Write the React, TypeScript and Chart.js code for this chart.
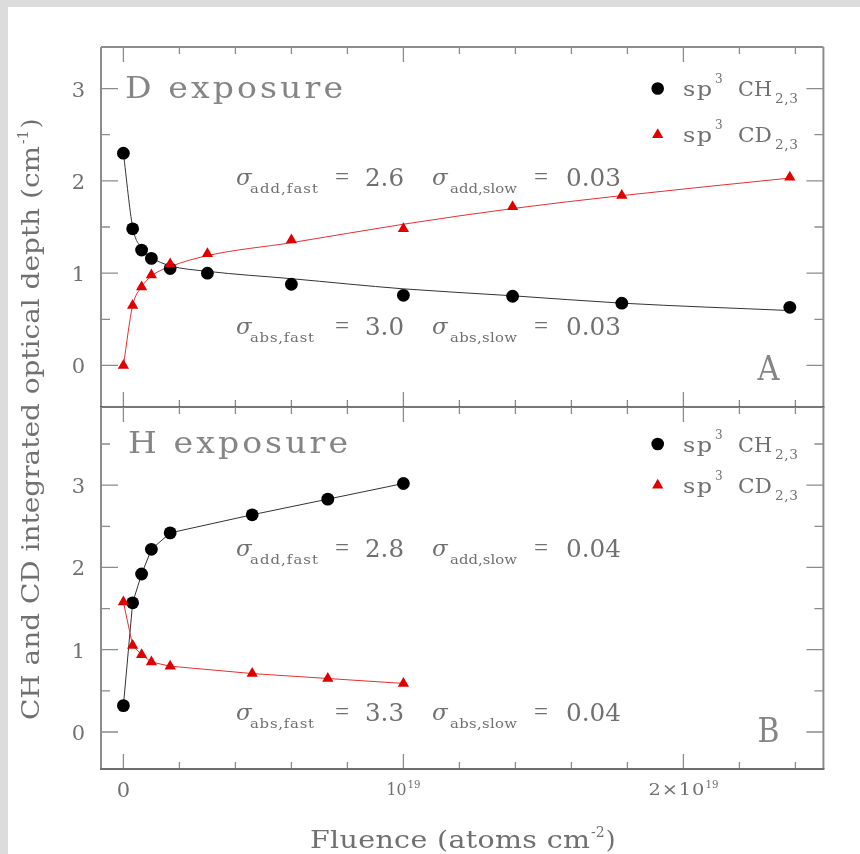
import React, { useEffect, useRef } from 'react';
import { Chart, registerables } from 'chart.js';

Chart.register(...registerables);

// Fluence is in units of 1e19 atoms cm^-2, optical depth in cm^-1.

// Panel A: D exposure
const dFluence = [0, 0.033, 0.065, 0.1, 0.167, 0.3, 0.6, 1.0, 1.39, 1.78, 2.38];
const dCH = [2.3, 1.48, 1.25, 1.16, 1.05, 1.0, 0.88, 0.76, 0.75, 0.675, 0.63];
const dCD = [0.0, 0.65, 0.85, 0.98, 1.1, 1.21, 1.36, 1.48, 1.72, 1.84, 2.04];
const dFitCH = [2.3, 1.5, 1.27, 1.17, 1.08, 1.02, 0.94, 0.83, 0.755, 0.675, 0.595];
const dFitCD = [0.0, 0.65, 0.85, 0.97, 1.07, 1.19, 1.33, 1.53, 1.7, 1.84, 2.03];
const dSigmaAdd = ['2.6', '0.03'];
const dSigmaAbs = ['3.0', '0.03'];

// Panel B: H exposure
const hFluence = [0, 0.033, 0.065, 0.1, 0.167, 0.46, 0.73, 1.0];
const hCH = [0.32, 1.57, 1.92, 2.22, 2.42, 2.64, 2.83, 3.02];
const hCD = [1.58, 1.05, 0.94, 0.85, 0.8, 0.71, 0.65, 0.59];
const hFitCH = [0.32, 1.57, 1.92, 2.22, 2.42, 2.64, 2.83, 3.02];
const hFitCD = [1.58, 1.05, 0.94, 0.85, 0.8, 0.71, 0.65, 0.59];
const hSigmaAdd = ['2.8', '0.04'];
const hSigmaAbs = ['3.3', '0.04'];

// Axes
const xRange = [-0.08, 2.5];
const xMajorTicks = [0, 1, 2];
const xTickLabels = ['0', '10', '2\u00d710'];
const xTickExponents = ['', '19', '19'];
const xMinorStep = 0.2;
const yMajorTicks = [0, 1, 2, 3];
const yMinorStep = 0.5;
const dYRange = [-0.45, 3.45];
const hYRange = [-0.45, 3.95];

const seriesNames = ['CH', 'CD'];

const SERIF = '"DejaVu Serif", serif';
const TIMES = '"Liberation Serif", serif';
const TEXT = '#707070';
const TITLE = '#858585';
const RED = '#e00000';
const FRAME = '#8c8c8c';
const MAX_STRETCH = 1.14;

type Ctx = CanvasRenderingContext2D;

function natWidth(ctx: Ctx, s: string) {
  let w = 0;
  for (const ch of s) w += ctx.measureText(ch).width;
  return w;
}

// Draws text glyph by glyph. With a target width the glyphs are widened a
// little and the rest of the room goes into letter spacing.
function drawFit(ctx: Ctx, s: string, x: number, y: number, width?: number) {
  const chars = [...s];
  const nat = natWidth(ctx, s);
  let stretch = 1;
  let ls = 0;
  if (width !== undefined) {
    stretch = Math.max(0.8, Math.min(width / nat, MAX_STRETCH));
    ls = chars.length > 1 ? (width - nat * stretch) / (chars.length - 1) : 0;
  }
  let cx = x;
  for (const ch of chars) {
    ctx.save();
    ctx.translate(cx, y);
    ctx.scale(stretch, 1);
    ctx.fillText(ch, 0, 0);
    ctx.restore();
    cx += ctx.measureText(ch).width * stretch + ls;
  }
  return cx - ls;
}

function font(size: number, family = SERIF, italic = false) {
  return `${italic ? 'italic ' : ''}${size}px ${family}`;
}

interface PanelSpec {
  fluence: number[];
  ch: number[];
  cd: number[];
  fitCH: number[];
  fitCD: number[];
  smoothFit: boolean;
  yRange: number[];
  padding: { left: number; right: number; top: number; bottom: number };
  title: string;
  titleX: number;
  titleY: number;
  titleW: number;
  letter: string;
  legendValues: number[];
  sigmaAdd: string[];
  sigmaAbs: string[];
  sigmaRowsY: number[];
  isBottom: boolean;
}

function drawSigma(ctx: Ctx, kind: string, vals: string[], y: number) {
  ctx.fillStyle = TEXT;
  const subs = [`${kind},fast`, `${kind},slow`];
  const starts = [236, 432];
  const subX = [250, 450];
  const subW = [kind === 'add' ? 68 : 64, 67];
  const eqX = [335, 534];
  const valX = [365, 566];
  for (let i = 0; i < 2; i++) {
    ctx.font = font(23, SERIF, true);
    ctx.fillText('\u03c3', starts[i], y - 1);
    ctx.font = font(13);
    drawFit(ctx, subs[i], subX[i], y + 7, subW[i]);
    ctx.font = font(25, TIMES);
    ctx.fillText('=', eqX[i], y - 1);
    ctx.font = font(24);
    drawFit(ctx, vals[i], valX[i], y, vals[i].length === 3 ? 39 : 55);
  }
}

function makeDeco(p: PanelSpec) {
  return {
    id: 'panelDeco',
    afterDraw(chart: Chart) {
      const ctx = chart.ctx;
      const { left, right, top, bottom } = chart.chartArea;
      const xs = chart.scales.x;
      const ys = chart.scales.y;
      ctx.save();

      // Inward tick marks
      ctx.strokeStyle = FRAME;
      ctx.lineWidth = 1.3;
      ctx.beginPath();
      for (let i = 0; ; i++) {
        const v = i * xMinorStep;
        if (v > xRange[1]) break;
        const major = xMajorTicks.some((m) => Math.abs(m - v) < 1e-6);
        const len = major ? 15 : 7;
        const px = xs.getPixelForValue(v);
        ctx.moveTo(px, top);
        ctx.lineTo(px, top + len);
        ctx.moveTo(px, bottom);
        ctx.lineTo(px, bottom - len);
      }
      for (let i = 0; ; i++) {
        const v = i * yMinorStep;
        if (v > p.yRange[1]) break;
        const major = Math.abs(v - Math.round(v)) < 1e-6;
        const len = major ? 17 : 9;
        const py = ys.getPixelForValue(v);
        ctx.moveTo(left, py);
        ctx.lineTo(left + len, py);
        ctx.moveTo(right, py);
        ctx.lineTo(right - len, py);
      }
      ctx.stroke();

      // Frame
      ctx.lineWidth = 2;
      ctx.strokeStyle = FRAME;
      ctx.beginPath();
      ctx.moveTo(left, bottom);
      ctx.lineTo(left, top);
      ctx.moveTo(right, top);
      ctx.lineTo(right, bottom);
      if (!p.isBottom) {
        ctx.moveTo(left, top);
        ctx.lineTo(right, top);
      }
      ctx.stroke();
      ctx.strokeStyle = p.isBottom ? '#6e6e6e' : '#4a4a4a';
      ctx.lineWidth = p.isBottom ? 2 : 1.6;
      ctx.beginPath();
      ctx.moveTo(left - 1, bottom);
      ctx.lineTo(right + 1, bottom);
      ctx.stroke();

      // Y tick labels
      ctx.fillStyle = TEXT;
      ctx.font = font(21);
      ctx.textAlign = 'right';
      for (const v of yMajorTicks) {
        ctx.fillText(String(v), left - 16, ys.getPixelForValue(v) + 8);
      }
      ctx.textAlign = 'left';

      // Panel title and letter
      ctx.fillStyle = TITLE;
      ctx.font = font(29);
      drawFit(ctx, p.title, p.titleX, p.titleY, p.titleW);
      ctx.font = font(33);
      drawFit(ctx, p.letter, right - 66, bottom - 27, 22);

      // Legend
      const markerX = 657.7;
      for (let i = 0; i < 2; i++) {
        const my = ys.getPixelForValue(p.legendValues[i]);
        ctx.fillStyle = i === 0 ? '#000' : RED;
        ctx.beginPath();
        if (i === 0) {
          ctx.arc(markerX, my, 6.3, 0, Math.PI * 2);
        } else {
          const r = 6.5;
          ctx.moveTo(markerX, my - r);
          ctx.lineTo(markerX + r * 0.866, my + r / 2);
          ctx.lineTo(markerX - r * 0.866, my + r / 2);
          ctx.closePath();
        }
        ctx.fill();
        const by = my + 7.7;
        ctx.fillStyle = TEXT;
        ctx.font = font(21);
        drawFit(ctx, 'sp', 683, by, 29);
        ctx.font = font(12);
        ctx.fillText('3', 715, by - 13);
        ctx.font = font(21);
        drawFit(ctx, seriesNames[i], 738, by, 34);
        ctx.font = font(12);
        drawFit(ctx, '2,3', 775, by + 7, 23);
      }

      // Cross-section annotations
      drawSigma(ctx, 'add', p.sigmaAdd, p.sigmaRowsY[0]);
      drawSigma(ctx, 'abs', p.sigmaAbs, p.sigmaRowsY[1]);

      if (p.isBottom) {
        // X tick labels
        ctx.fillStyle = TEXT;
        const baseWidths = [0, 20, 56];
        const expWidth = 13;
        for (let i = 0; i < xMajorTicks.length; i++) {
          const cx = xs.getPixelForValue(xMajorTicks[i]);
          if (!xTickExponents[i]) {
            ctx.font = font(21);
            const w = ctx.measureText(xTickLabels[i]).width;
            ctx.fillText(xTickLabels[i], cx - w / 2, bottom + 28);
          } else {
            const total = baseWidths[i] + 1 + expWidth;
            const x0 = cx - total / 2;
            ctx.font = font(17);
            drawFit(ctx, xTickLabels[i], x0, bottom + 26, baseWidths[i]);
            ctx.font = font(11);
            drawFit(ctx, xTickExponents[i], x0 + baseWidths[i] + 1, bottom + 19, expWidth);
          }
        }

        // X axis title
        ctx.font = font(25);
        let xe = drawFit(ctx, 'Fluence (atoms cm', 310, 848, 280);
        ctx.font = font(14);
        xe = drawFit(ctx, '-2', xe + 1, 837);
        ctx.font = font(25);
        ctx.fillText(')', xe + 1, 848);

        // Y axis title (rotated)
        ctx.save();
        ctx.translate(38.5, 720);
        ctx.rotate(-Math.PI / 2);
        ctx.font = font(25);
        let ye = drawFit(ctx, 'CH and CD integrated optical depth (cm', 0, 0, 574);
        ctx.font = font(14);
        ye = drawFit(ctx, '-1', ye + 2, -11);
        ctx.font = font(25);
        ctx.fillText(')', ye + 2, 0);
        ctx.restore();
      }
      ctx.restore();
    },
  };
}

function pts(xs: number[], ys: number[]) {
  return xs.map((x, i) => ({ x, y: ys[i] }));
}

function makeConfig(p: PanelSpec): any {
  const interp = p.smoothFit ? 'monotone' : 'default';
  return {
    type: 'line',
    data: {
      datasets: [
        {
          label: 'sp3 CD2,3',
          data: pts(p.fluence, p.cd),
          showLine: false,
          pointStyle: 'triangle',
          pointRadius: 6.5,
          pointBackgroundColor: RED,
          pointBorderWidth: 0,
        },
        {
          label: 'sp3 CH2,3',
          data: pts(p.fluence, p.ch),
          showLine: false,
          pointStyle: 'circle',
          pointRadius: 6.4,
          pointBackgroundColor: '#000',
          pointBorderWidth: 0,
        },
        {
          label: 'CD fit',
          data: pts(p.fluence, p.fitCD),
          borderColor: '#e53030',
          borderWidth: 1,
          pointRadius: 0,
          tension: 0,
          cubicInterpolationMode: interp,
        },
        {
          label: 'CH fit',
          data: pts(p.fluence, p.fitCH),
          borderColor: '#333',
          borderWidth: 1,
          pointRadius: 0,
          tension: 0,
          cubicInterpolationMode: interp,
        },
      ],
    },
    options: {
      responsive: false,
      animation: false,
      devicePixelRatio: 1,
      events: [],
      layout: { padding: p.padding },
      plugins: { legend: { display: false }, tooltip: { enabled: false } },
      scales: {
        x: { type: 'linear', min: xRange[0], max: xRange[1], display: false },
        y: { type: 'linear', min: p.yRange[0], max: p.yRange[1], display: false },
      },
    },
    plugins: [makeDeco(p)],
  };
}

const W = 860;
const H = 854;

const topPanel: PanelSpec = {
  fluence: dFluence,
  ch: dCH,
  cd: dCD,
  fitCH: dFitCH,
  fitCD: dFitCD,
  smoothFit: true,
  yRange: dYRange,
  padding: { left: 101, right: W - 823.4, top: 47, bottom: H - 407 },
  title: 'D exposure',
  titleX: 125,
  titleY: 98,
  titleW: 218,
  letter: 'A',
  legendValues: [3, 2.5],
  sigmaAdd: dSigmaAdd,
  sigmaAbs: dSigmaAbs,
  sigmaRowsY: [186, 335],
  isBottom: false,
};

const bottomPanel: PanelSpec = {
  fluence: hFluence,
  ch: hCH,
  cd: hCD,
  fitCH: hFitCH,
  fitCD: hFitCD,
  smoothFit: false,
  yRange: hYRange,
  padding: { left: 101, right: W - 823.4, top: 407, bottom: H - 769 },
  title: 'H exposure',
  titleX: 128,
  titleY: 453,
  titleW: 220,
  letter: 'B',
  legendValues: [3.5, 3.0],
  sigmaAdd: hSigmaAdd,
  sigmaAbs: hSigmaAbs,
  sigmaRowsY: [557, 721],
  isBottom: true,
};

export default function App() {
  const topRef = useRef<HTMLCanvasElement>(null);
  const botRef = useRef<HTMLCanvasElement>(null);

  useEffect(() => {
    const a = new Chart(topRef.current!, makeConfig(topPanel));
    const b = new Chart(botRef.current!, makeConfig(bottomPanel));
    return () => {
      a.destroy();
      b.destroy();
    };
  }, []);

  const canvasStyle: React.CSSProperties = { position: 'absolute', left: 0, top: 0, width: W, height: H };
  return (
    <div style={{ position: 'absolute', left: 0, top: 0, width: W, height: H, background: '#dcdcdc', overflow: 'hidden' }}>
      <div style={{ position: 'absolute', left: 8, top: 7, right: 0, bottom: 0, background: '#fff' }} />
      <canvas ref={topRef} width={W} height={H} style={canvasStyle} />
      <canvas ref={botRef} width={W} height={H} style={canvasStyle} />
    </div>
  );
}
